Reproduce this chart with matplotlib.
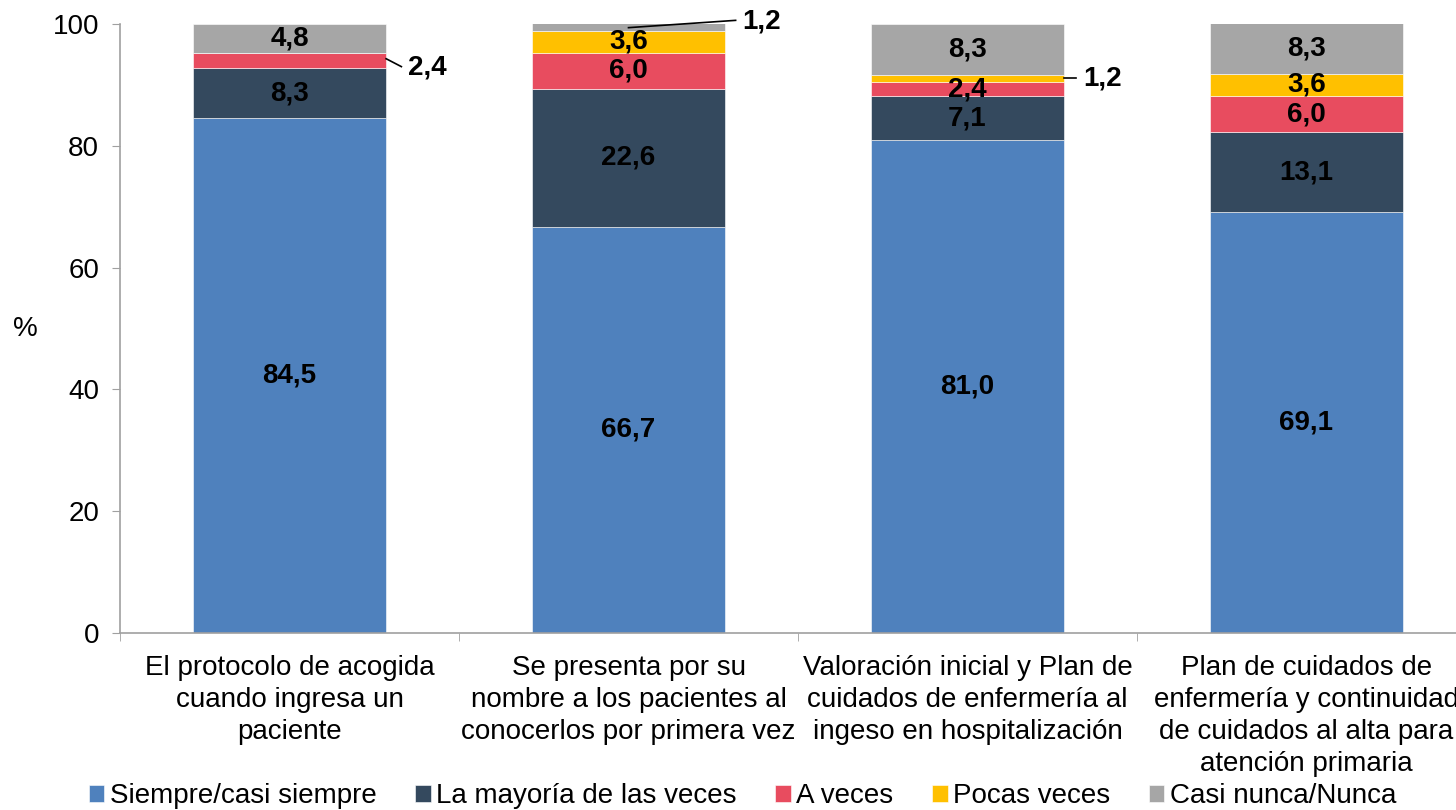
import matplotlib

matplotlib.use("Agg")
import matplotlib.pyplot as plt
import numpy as np

plt.rcParams.update({"font.family": ["Liberation Sans", "DejaVu Sans"], "font.size": 20})

categories = [
    "El protocolo de acogida\ncuando ingresa un\npaciente",
    "Se presenta por su\nnombre a los pacientes al\nconocerlos por primera vez",
    "Valoración inicial y Plan de\ncuidados de enfermería al\ningeso en hospitalización",
    "Plan de cuidados de\nenfermería y continuidad\nde cuidados al alta para\natención primaria",
]
series = ["Siempre/casi siempre", "La mayoría de las veces", "A veces", "Pocas veces", "Casi nunca/Nunca"]
siempre = [84.5, 66.7, 81.0, 69.1]
mayoria = [8.3, 22.6, 7.1, 13.1]
a_veces = [2.4, 6.0, 2.4, 6.0]
pocas = [0.0, 3.6, 1.2, 3.6]
nunca = [4.8, 1.2, 8.3, 8.3]
colors = ["#4F81BD", "#34495E", "#E84C5F", "#FFC000", "#A6A6A6"]

values = [siempre, mayoria, a_veces, pocas, nunca]
x = np.arange(len(categories))

fig = plt.figure(figsize=(14.56, 8.10), dpi=100)
ax = fig.add_axes([120 / 1456, 177 / 810, 1356 / 1456, 609 / 810])

bottom = np.zeros(len(categories))
for name, vals, col in zip(series, values, colors):
    vals = np.array(vals)
    ax.bar(x, vals, 0.57, bottom=bottom, color=col, label=name, edgecolor="white", linewidth=0.4)
    for i, v in enumerate(vals):
        if v >= 2.4 and not (name == "A veces" and i == 0):
            ax.text(x[i], bottom[i] + v / 2, f"{v:.1f}".replace(".", ","), ha="center", va="center",
                    fontsize=20, fontweight="bold", color="black")
    bottom += vals

# small segments labelled outside with leader lines: (bar, label, line start, line end, text pos)
small = [
    (0, "2,4", (0.285, 94.3), (0.33, 93.0), (0.35, 92.9)),
    (1, "1,2", (0.0, 99.4), (0.316, 100.6), (0.336, 100.4)),
    (2, "1,2", (0.285, 91.1), (0.32, 91.1), (0.342, 91.1)),
]
for i, lab, p0, p1, pt in small:
    ax.plot([x[i] + p0[0], x[i] + p1[0]], [p0[1], p1[1]], color="black", lw=1.2, clip_on=False)
    ax.text(x[i] + pt[0], pt[1], lab, ha="left", va="center", fontsize=20, fontweight="bold")

ax.set_ylim(0, 100)
ax.set_xlim(-0.5, len(categories) - 0.5)
ax.set_yticks(range(0, 101, 20))
ax.set_xticks(x)
ax.set_xticklabels(categories, fontsize=20, linespacing=1.3)
ax.set_xticks(np.arange(-0.5, len(categories), 1), minor=True)
ax.tick_params(axis="x", which="major", length=0, pad=16)
ax.tick_params(axis="x", which="minor", length=6, color="#A0A0A0")
ax.tick_params(axis="y", length=6, color="#A0A0A0", labelsize=20, pad=9)
for s in ["top", "right"]:
    ax.spines[s].set_visible(False)
for s in ["left", "bottom"]:
    ax.spines[s].set_color("#A0A0A0")
    ax.spines[s].set_linewidth(1.2)
ax.set_ylabel("%", rotation=0, fontsize=20, va="center")
ax.yaxis.set_label_coords(-0.07, 0.5)

fig.legend(loc="lower center", bbox_to_anchor=(0.51, -0.03), ncol=5, frameon=False, fontsize=20,
           handlelength=0.55, handleheight=0.55, handletextpad=0.2, columnspacing=1.4)

fig.savefig("out.png", dpi=100)
